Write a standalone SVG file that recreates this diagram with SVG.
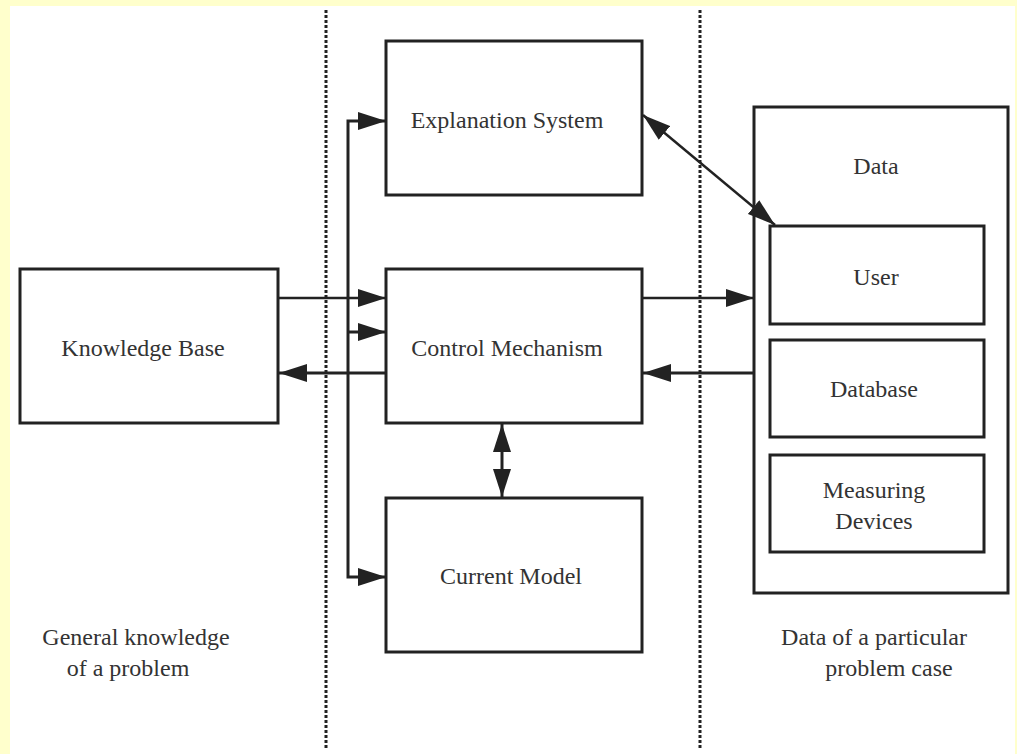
<svg xmlns="http://www.w3.org/2000/svg" width="1017" height="754" viewBox="0 0 1017 754">
<style>
.box{fill:#fff;stroke:#222;stroke-width:3}
.t{font-family:"Liberation Serif","Times New Roman",serif;font-size:24px;fill:#333;text-anchor:middle}
.c{fill:none;stroke:#222;stroke-width:3}
.thin{fill:none;stroke:#222;stroke-width:2.5}
.dot{fill:none;stroke:#222;stroke-width:3;stroke-dasharray:3 2}
</style>
<defs>
<marker id="ah" viewBox="0 0 28 18" refX="28" refY="9" markerWidth="28" markerHeight="18" markerUnits="userSpaceOnUse" orient="auto-start-reverse">
<path d="M0,0 L28,9 L0,18 Z" fill="#222"/>
</marker>
</defs>
<rect x="0" y="0" width="1017" height="754" fill="#ffffcc"/>
<rect x="10" y="6" width="1005" height="748" fill="#fff"/>
<g id="dividers">
<line class="dot" x1="326" y1="10" x2="326" y2="750"/>
<line class="dot" x1="700" y1="10" x2="700" y2="750"/>
</g>
<g id="explanation"><rect class="box" x="386" y="41" width="256" height="154"/><text class="t" x="507" y="128">Explanation System</text></g>
<g id="knowledge-base"><rect class="box" x="20" y="269" width="258" height="154"/><text class="t" x="143" y="356">Knowledge Base</text></g>
<g id="control"><rect class="box" x="386" y="269" width="256" height="154"/><text class="t" x="507" y="356">Control Mechanism</text></g>
<g id="current-model"><rect class="box" x="386" y="498" width="256" height="154"/><text class="t" x="511" y="584">Current Model</text></g>
<g id="data"><rect class="box" x="754" y="107" width="254" height="486"/><text class="t" x="876" y="174">Data</text></g>
<g id="user"><rect class="box" x="770" y="226" width="214" height="98"/><text class="t" x="876" y="285">User</text></g>
<g id="database"><rect class="box" x="770" y="340" width="214" height="97"/><text class="t" x="874" y="397">Database</text></g>
<g id="measuring"><rect class="box" x="770" y="455" width="214" height="97"/><text class="t" x="874" y="498">Measuring</text><text class="t" x="874" y="529">Devices</text></g>
<g id="labels">
<text class="t" x="136" y="645">General knowledge</text>
<text class="t" x="128" y="676">of a problem</text>
<text class="t" x="874" y="645">Data of a particular</text>
<text class="t" x="889" y="676">problem case</text>
</g>
<g id="connectors">
<polyline class="c" points="386,121 348,121 348,577 386,577" marker-start="url(#ah)" marker-end="url(#ah)"/>
<line class="c" x1="348" y1="332" x2="386" y2="332" marker-end="url(#ah)"/>
<line class="thin" x1="278" y1="298" x2="386" y2="298" marker-end="url(#ah)"/>
<line class="c" x1="386" y1="373" x2="279" y2="373" marker-end="url(#ah)"/>
<line class="thin" x1="642" y1="298" x2="754" y2="298" marker-end="url(#ah)"/>
<line class="c" x1="754" y1="373" x2="643" y2="373" marker-end="url(#ah)"/>
<line class="thin" x1="643" y1="115" x2="775" y2="225" marker-start="url(#ah)" marker-end="url(#ah)"/>
<line class="c" x1="502" y1="424" x2="502" y2="497" marker-start="url(#ah)" marker-end="url(#ah)"/>
</g>
</svg>
